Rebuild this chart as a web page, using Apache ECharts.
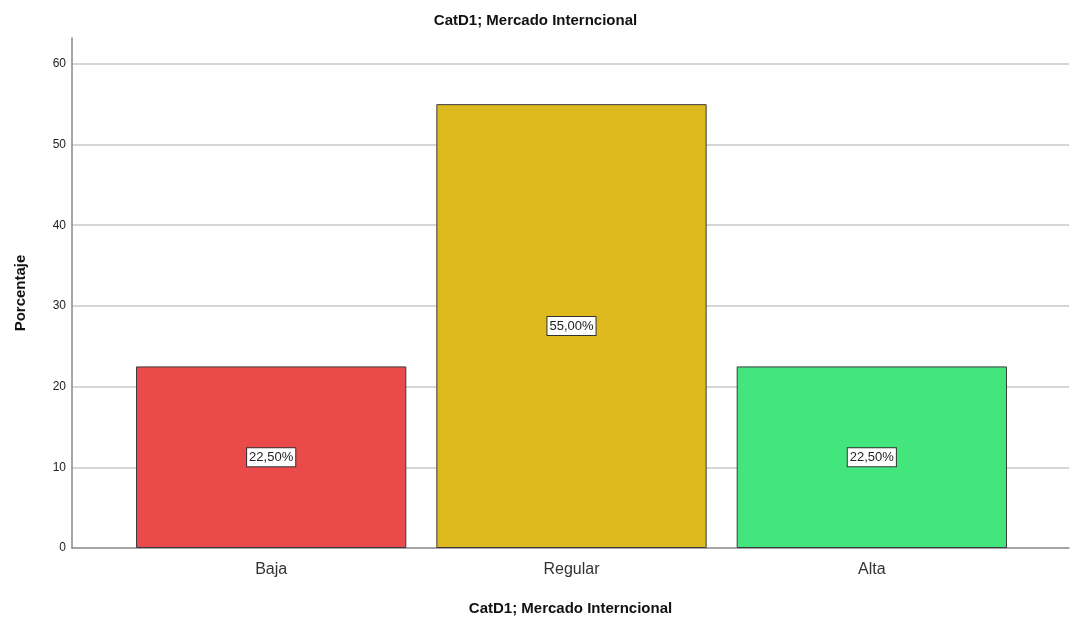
<!DOCTYPE html>
<html>
<head>
<meta charset="utf-8">
<script src="https://cdn.jsdelivr.net/npm/echarts@6/dist/echarts.min.js"></script>
<style>
  html, body { margin: 0; padding: 0; background: #fff; }
  #chart { width: 1071px; height: 620px; }
</style>
</head>
<body>
<div id="chart"></div>
<script>
const titleText = 'CatD1; Mercado Interncional';
const categories = ['Baja', 'Regular', 'Alta'];
const percentages = [22.5, 55.0, 22.5];
const barColors = ['#EA4A4A', '#DEBA1F', '#43E67C'];
const yMax = 63.2;
const yInterval = 10;

const fontFamily = 'Liberation Sans, Arial, sans-serif';

const chart = echarts.init(document.getElementById('chart'));
chart.setOption({
  animation: false,
  textStyle: { fontFamily },
  title: {
    text: titleText,
    left: 'center',
    top: 8,
    textStyle: { fontSize: 15, fontWeight: 'bold', color: '#111', fontFamily }
  },
  grid: [
    // frame: y axis, gridlines, x axis line
    { left: 72, right: 2, top: 38, bottom: 72, outerBoundsMode: 'none', containLabel: false },
    // bars
    { left: 121, right: 49, top: 38, bottom: 72, outerBoundsMode: 'none', containLabel: false }
  ],
  xAxis: [
    {
      gridIndex: 0, type: 'category', data: [''],
      name: titleText, nameLocation: 'middle', nameGap: 53,
      nameTextStyle: { fontSize: 15, fontWeight: 'bold', color: '#111' },
      axisLine: { lineStyle: { color: '#888', width: 1.5 } },
      axisTick: { show: false }, axisLabel: { show: false }
    },
    {
      gridIndex: 1, type: 'category', data: categories,
      axisLine: { show: false }, axisTick: { show: false },
      axisLabel: { fontSize: 16, color: '#333', margin: 14 }
    }
  ],
  yAxis: [
    {
      gridIndex: 0, type: 'value', min: 0, max: yMax, interval: yInterval,
      name: 'Porcentaje', nameLocation: 'middle', nameGap: 44,
      nameTextStyle: { fontSize: 15, fontWeight: 'bold', color: '#111' },
      axisLine: { show: true, lineStyle: { color: '#888', width: 1.5 } },
      axisTick: { show: false },
      splitLine: {
        show: true, showMinLine: false, showMaxLine: false,
        lineStyle: { color: '#c8c8c8', width: 1.5 }
      },
      axisLabel: {
        fontSize: 12, color: '#222', margin: 6,
        showMaxLabel: false,
        formatter: v => (v % yInterval === 0 ? String(v) : '')
      }
    },
    {
      gridIndex: 1, type: 'value', min: 0, max: yMax, show: false
    }
  ],
  series: [
    {
      type: 'bar', xAxisIndex: 1, yAxisIndex: 1, z: 3,
      barCategoryGap: '10%',
      data: percentages.map((v, i) => ({ value: v, itemStyle: { color: barColors[i] } })),
      itemStyle: { borderColor: '#3a3a3a', borderWidth: 1 },
      label: {
        show: true, position: 'inside',
        formatter: p => p.value.toFixed(2).replace('.', ',') + '%',
        fontSize: 13, color: '#222',
        backgroundColor: '#fff', borderColor: '#333', borderWidth: 1,
        padding: [3, 2, 2, 2]
      }
    }
  ]
});
</script>
</body>
</html>
